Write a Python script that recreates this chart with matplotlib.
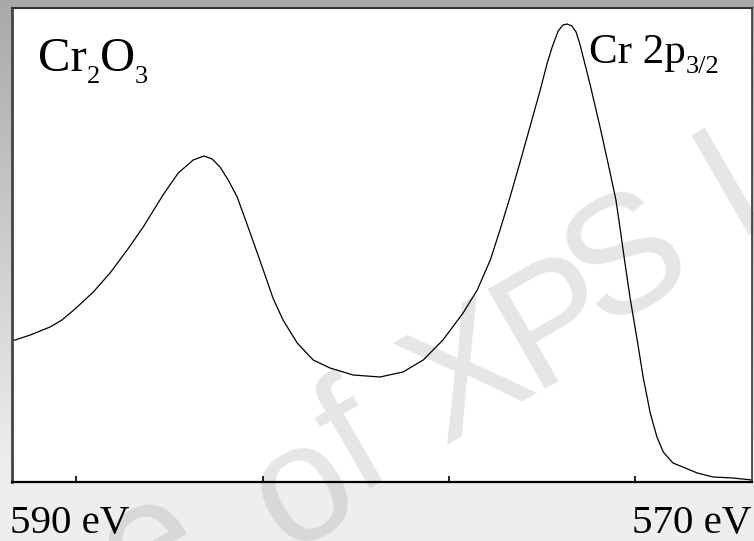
import numpy as np
import matplotlib
matplotlib.use("Agg")
import matplotlib.pyplot as plt

# Cr 2p spectrum of Cr2O3 (binding energy in eV, intensity in arbitrary units)
energy = [591.72, 591.23, 590.70, 590.38, 590.03, 589.54, 589.09, 588.63, 588.20, 587.67,
          587.26, 586.86, 586.57, 586.35, 586.14, 585.92, 585.68, 585.33, 584.98, 584.72,
          584.45, 584.07, 583.64, 583.19, 582.57, 581.85, 581.23, 580.69, 580.16, 579.62,
          579.24, 578.89, 578.63, 578.36, 578.09, 577.82, 577.55, 577.37, 577.23, 577.07,
          576.94, 576.83, 576.70, 576.59, 576.48, 576.21, 575.94, 575.68, 575.52, 575.41,
          575.27, 575.14, 574.95, 574.79, 574.60, 574.42, 574.25, 573.99, 573.66, 573.34,
          572.91, 572.38, 571.87]
intensity = [141, 147, 155, 162, 173, 190, 209, 232, 255, 287,
             309, 322, 326, 323, 315, 302, 285, 249, 212, 184,
             162, 139, 122, 114, 107, 105, 110, 122, 142, 169,
             192, 222, 252, 285, 320, 356, 392, 418, 435, 451,
             457, 458, 456, 450, 437, 397, 354, 310, 282, 254,
             217, 184, 142, 105, 69, 45, 30, 19, 14, 9,
             5, 4, 2]
tick_ev = [590, 585, 580, 575]
left_label = "590 eV"
right_label = "570 eV"

# watermark glyphs and their centres (pixels from top-left)
wm_letters = ["e", "o", "f", "X", "P", "S", "I"]
wm_centres = [(152, 548), (305, 492), (355, 445), (470, 380), (558, 324), (628, 262), (732, 186)]

W, H = 754, 541
plt.rcParams["font.family"] = ["Liberation Serif", "DejaVu Serif"]

fig = plt.figure(figsize=(W / 100, H / 100), dpi=100)

# grey gradient background
bg = fig.add_axes([0, 0, 1, 1], zorder=-10)
rows = np.arange(H)
shade = np.clip(0xa8 + (0xee - 0xa8) * rows / 470.0, 0, 0xee) / 255.0
bg.imshow(np.repeat(shade[:, None], 4, axis=1), cmap="gray", vmin=0, vmax=1,
          aspect="auto", extent=[0, 1, 0, 1])
bg.axis("off")

ax = fig.add_axes([12 / W, 1 - 482 / H, 740 / W, 474 / H])
ax.set_facecolor("white")
ax.plot(energy, intensity, color="black", lw=0.9, zorder=2,
        solid_joinstyle="round")
ax.set_xlim(591.72, 571.87)
ax.set_ylim(0, 474)
ax.set_xticks(tick_ev)
ax.set_xticklabels([])
ax.set_yticks([])
ax.tick_params(axis="x", direction="in", length=4, width=1.2, color="black")
for side, c, w in [("bottom", "black", 1.6), ("left", "#444444", 2.0),
                   ("top", "#333333", 1.5), ("right", "#333333", 1.2)]:
    ax.spines[side].set_color(c)
    ax.spines[side].set_linewidth(w)

# watermark, one glyph at a time
for ch, (px, py) in zip(wm_letters, wm_centres):
    ax.text(px / W, 1 - py / H, ch, fontsize=120, family="Liberation Sans",
            color="#808080", alpha=0.2, rotation=30, rotation_mode="anchor",
            ha="center", va="center", transform=fig.transFigure,
            clip_on=False, zorder=1)

renderer = fig.canvas.get_renderer()


def chain(parts, x, y):
    # draw text pieces one after another, subscripts lowered by dy pixels
    cur = x
    for s, size, dy in parts:
        t = fig.text(cur / W, 1 - (y + dy) / H, s, fontsize=size,
                     ha="left", va="baseline")
        cur += t.get_window_extent(renderer=renderer).width


chain([("Cr", 35, 0), ("2", 19, 12), ("O", 35, 0), ("3", 19, 12)], 38, 71)
chain([("Cr 2p", 31, 0), ("3/2", 19, 10)], 589, 63)

fig.text(10 / W, 1 - 533 / H, left_label, fontsize=29.5, ha="left", va="baseline")
fig.text(752 / W, 1 - 533 / H, right_label, fontsize=29.5, ha="right", va="baseline")

fig.savefig("out.png", dpi=100)
